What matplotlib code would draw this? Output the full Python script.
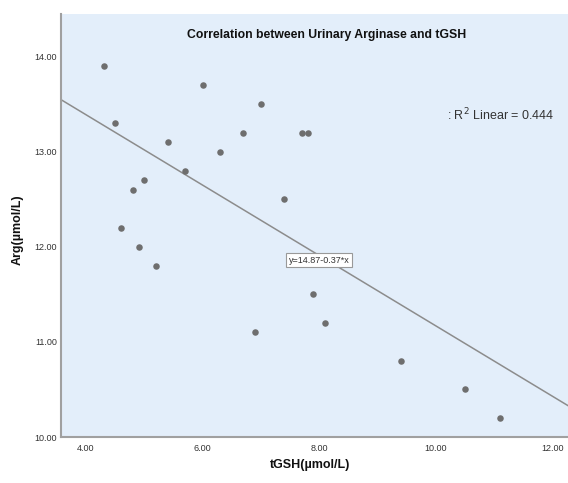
import matplotlib
matplotlib.use('Agg')
import matplotlib.pyplot as plt

tgsh = [4.3, 4.5, 6.0, 7.0, 5.4, 6.3, 6.7, 5.7, 5.0, 4.8, 4.6, 7.4, 4.9, 5.2, 6.9,
        7.7, 7.8, 7.9, 8.1, 9.4, 10.5, 11.1]
arg = [13.9, 13.3, 13.7, 13.5, 13.1, 13.0, 13.2, 12.8, 12.7, 12.6, 12.2, 12.5, 12.0, 11.8, 11.1,
       13.2, 13.2, 11.5, 11.2, 10.8, 10.5, 10.2]
intercept = 14.87
slope = -0.37
x_ticks = [4, 6, 8, 10, 12]
y_ticks = [10, 11, 12, 13, 14]

plt.rcParams['font.family'] = ['Liberation Sans', 'DejaVu Sans']

fig = plt.figure(figsize=(5.68, 4.83), dpi=100)
ax = fig.add_axes([0.1074, 0.0952, 0.8926, 0.8758])
ax.set_facecolor('#e3eefa')

xlim = (3.57, 12.27)
ax.plot(xlim, [intercept + slope * v for v in xlim], color='#8c8c8c', linewidth=1.1, zorder=2)
ax.scatter(tgsh, arg, s=22, color='#6e6e6e', zorder=3, linewidths=0)

ax.set_xlim(*xlim)
ax.set_ylim(10.0, 14.45)
ax.set_xticks(x_ticks)
ax.set_xticklabels(['{:.2f}'.format(v) for v in x_ticks])
ax.set_yticks(y_ticks)
ax.set_yticklabels(['{:.2f}'.format(v) for v in y_ticks])
ax.tick_params(length=0, labelsize=6.5, colors='#333333')
ax.tick_params(axis='x', pad=5)
ax.tick_params(axis='y', pad=3)

for side in ['top', 'right']:
    ax.spines[side].set_visible(False)
for side in ['left', 'bottom']:
    ax.spines[side].set_color('#a0a0a0')
    ax.spines[side].set_linewidth(1.5)

fig.text(310 / 568, 1 - 465 / 483, 'tGSH(µmol/L)', ha='center', va='center',
         fontsize=9, fontweight='bold', color='#111111')
fig.text(18 / 568, 1 - 230 / 483, 'Arg(µmol/L)', ha='center', va='center', rotation=90,
         fontsize=9, fontweight='bold', color='#111111')

ax.text(0.523, 0.950, 'Correlation between Urinary Arginase and tGSH', transform=ax.transAxes,
        ha='center', va='center', fontsize=8.8, fontweight='bold', color='#111111')
ax.text(0.973, 0.761, ': R$^2$ Linear = 0.444', transform=ax.transAxes,
        ha='right', va='center', fontsize=9, color='#333333')
ax.text(7.48, 11.86, 'y=14.87-0.37*x', ha='left', va='center', fontsize=6.5, color='#333333',
        bbox=dict(boxstyle='square,pad=0.3', facecolor='white', edgecolor='#999999', linewidth=0.8))

fig.savefig('out.png', dpi=100)
